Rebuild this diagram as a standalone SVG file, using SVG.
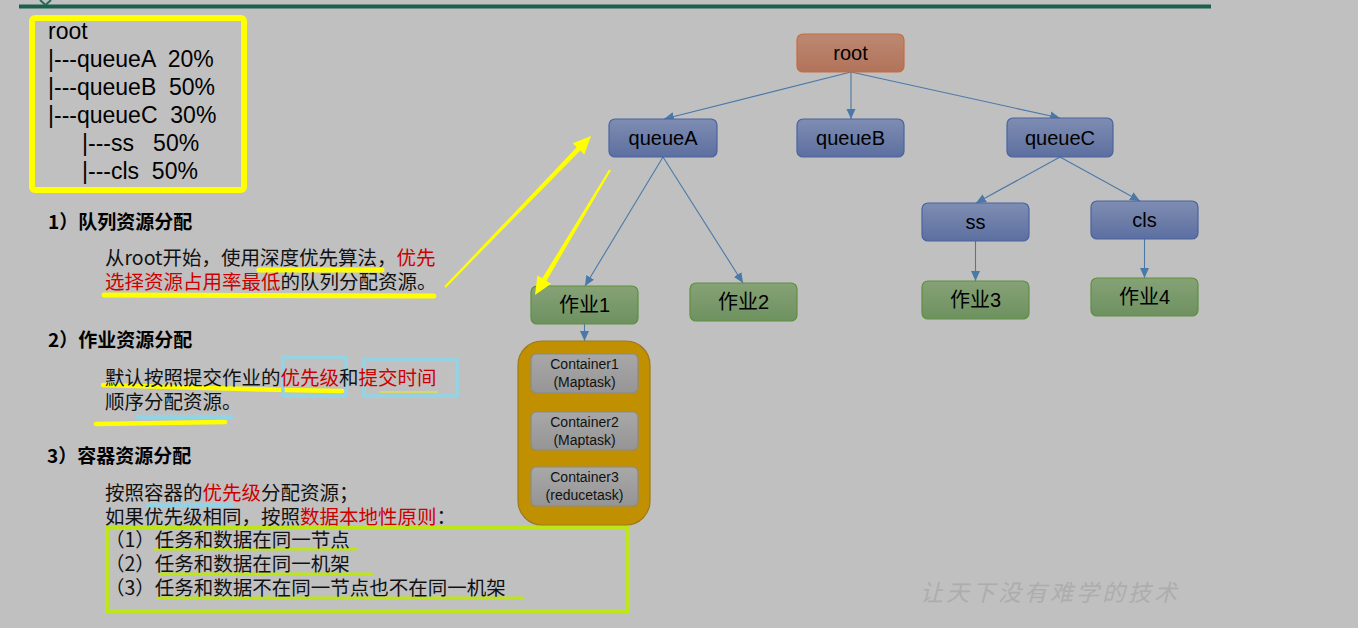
<svg xmlns="http://www.w3.org/2000/svg" width="1358" height="628" viewBox="0 0 1358 628">
<defs>
<style>
.lat{font-family:"Liberation Sans",Arial,sans-serif;}
.cjk{font-family:"Noto Sans CJK SC","Noto Sans",sans-serif;}
.box{font-family:"Liberation Sans",Arial,sans-serif;font-size:23px;fill:#000;}
.h{font-family:"Noto Sans CJK SC",sans-serif;font-size:19px;font-weight:bold;fill:#000;}
.b{font-family:"Noto Sans CJK SC",sans-serif;font-size:19.5px;fill:#111;}
.red{fill:#cc0000;}
.nt{font-family:"Liberation Sans","Noto Sans CJK SC",sans-serif;font-size:20px;fill:#000;text-anchor:middle;}
.ct{font-family:"Liberation Sans",Arial,sans-serif;font-size:14px;fill:#111;text-anchor:middle;}
.blue{fill:url(#gBlue);stroke:#4a63a0;stroke-width:1.2;}
.green{fill:url(#gGreen);stroke:#5f8f3e;stroke-width:1.2;}
.cont{fill:url(#gGray);stroke:#8a8a8a;stroke-width:1.2;}
.conn{stroke:#4a79a8;stroke-width:1.1;fill:none;marker-end:url(#arr);}
.ul{stroke-linecap:round;fill:none;}
</style>
<linearGradient id="gBlue" x1="0" y1="0" x2="0" y2="1"><stop offset="0" stop-color="#7f8db2"/><stop offset="1" stop-color="#5c6fa0"/></linearGradient>
<linearGradient id="gGreen" x1="0" y1="0" x2="0" y2="1"><stop offset="0" stop-color="#86a276"/><stop offset="1" stop-color="#6e9160"/></linearGradient>
<linearGradient id="gRoot" x1="0" y1="0" x2="0" y2="1"><stop offset="0" stop-color="#bc8872"/><stop offset="1" stop-color="#b2735a"/></linearGradient>
<linearGradient id="gGray" x1="0" y1="0" x2="0" y2="1"><stop offset="0" stop-color="#a8a8a8"/><stop offset="1" stop-color="#959595"/></linearGradient>
<marker id="arr" markerUnits="userSpaceOnUse" markerWidth="10" markerHeight="10" refX="10" refY="5" orient="auto"><path d="M0,0.5 L10,5 L0,9.5 z" fill="#4a79a8"/></marker>
</defs>
<rect x="0" y="0" width="1358" height="628" fill="#c0c0c0"/>
<rect x="19" y="4.5" width="1192" height="4" fill="#1d5e4c"/>
<path d="M40,0 L45.5,5 L51,0" fill="none" stroke="#1d6e58" stroke-width="2"/>

<g id="queue-list">
<rect x="32" y="18" width="212" height="172" rx="3" fill="none" stroke="#ffff00" stroke-width="6"/>
<text class="box" x="48" y="39">root</text>
<text class="box" x="48" y="67" xml:space="preserve">|---queueA  20%</text>
<text class="box" x="48" y="95" xml:space="preserve">|---queueB  50%</text>
<text class="box" x="48" y="123" xml:space="preserve">|---queueC  30%</text>
<text class="box" x="82" y="151" xml:space="preserve">|---ss   50%</text>
<text class="box" x="82" y="179" xml:space="preserve">|---cls  50%</text>
</g>

<g id="section1">
<text class="h" x="48" y="229">1）队列资源分配</text>
<path class="ul" d="M259,270 L382,270" stroke="#ffff00" stroke-width="5"/>
<path class="ul" d="M104,295 L434,296" stroke="#ffff00" stroke-width="5"/>
<text class="b" x="105" y="265">从root开始，使用深度优先算法，<tspan class="red">优先</tspan></text>
<text class="b" x="105" y="289"><tspan class="red">选择资源占用率最低</tspan>的队列分配资源。</text>
</g>

<g id="section2">
<text class="h" x="48" y="347">2）作业资源分配</text>
<path class="ul" d="M103,385 Q230,389 342,391" stroke="#ffff00" stroke-width="4.5"/>
<path class="ul" d="M380,392 L437,392" stroke="#d6d86a" stroke-width="2"/>
<path class="ul" d="M138,417 L232,417" stroke="#93d3e6" stroke-width="4.5"/>
<path class="ul" d="M96,424 L225,422" stroke="#ffff00" stroke-width="4.5"/>
<rect x="283" y="357" width="63" height="39" fill="none" stroke="#93d3e6" stroke-width="3.5"/>
<rect x="364" y="360" width="93" height="36" fill="none" stroke="#93d3e6" stroke-width="3.5"/>
<text class="b" x="105" y="385">默认按照提交作业的<tspan class="red">优先级</tspan>和<tspan class="red">提交时间</tspan></text>
<text class="b" x="105" y="409">顺序分配资源。</text>
</g>

<g id="section3">
<text class="h" x="47" y="463">3）容器资源分配</text>
<path class="ul" d="M148,505 L232,505" stroke="#93d3e6" stroke-width="4.5"/>
<rect x="107" y="528" width="521" height="83" fill="none" stroke="#bde61a" stroke-width="4"/>
<path class="ul" d="M155,549 L356,549" stroke="#bde61a" stroke-width="3"/>
<path class="ul" d="M160,574 L372,574" stroke="#bde61a" stroke-width="3"/>
<path class="ul" d="M158,598 L523,598" stroke="#bde61a" stroke-width="3"/>
<text class="b" x="105" y="500">按照容器的<tspan class="red">优先级</tspan>分配资源；</text>
<text class="b" x="105" y="524">如果优先级相同，按照<tspan class="red">数据本地性原则</tspan>：</text>
<text class="b" x="105" y="547">（1）任务和数据在同一节点</text>
<text class="b" x="105" y="571">（2）任务和数据在同一机架</text>
<text class="b" x="105" y="595">（3）任务和数据不在同一节点也不在同一机架</text>
</g>

<g id="connectors">
<line class="conn" x1="851" y1="72" x2="664" y2="119"/>
<line class="conn" x1="851" y1="72" x2="851" y2="119"/>
<line class="conn" x1="851" y1="72" x2="1060" y2="118"/>
<line class="conn" x1="663" y1="157" x2="585" y2="286"/>
<line class="conn" x1="663" y1="157" x2="743" y2="283"/>
<line class="conn" x1="1060" y1="157" x2="976" y2="203"/>
<line class="conn" x1="1060" y1="157" x2="1140" y2="201"/>
<line class="conn" x1="975.5" y1="241" x2="975.5" y2="281"/>
<line class="conn" x1="1144.5" y1="239" x2="1144.5" y2="278"/>
<line class="conn" x1="584.5" y1="324" x2="584.5" y2="341"/>
</g>

<g id="root"><rect x="797" y="34" width="107" height="38" rx="6" fill="url(#gRoot)" stroke="#c86a3e" stroke-width="1.2"/><text class="nt" x="850.5" y="60">root</text></g>
<g id="queueA"><rect class="blue" x="609" y="119" width="108" height="38" rx="6"/><text class="nt" x="663" y="145">queueA</text></g>
<g id="queueB"><rect class="blue" x="797" y="119" width="107" height="38" rx="6"/><text class="nt" x="850.5" y="145">queueB</text></g>
<g id="queueC"><rect class="blue" x="1007" y="118" width="106" height="39" rx="6"/><text class="nt" x="1060" y="145">queueC</text></g>
<g id="ss"><rect class="blue" x="922" y="203" width="107" height="38" rx="6"/><text class="nt" x="975.5" y="229">ss</text></g>
<g id="cls"><rect class="blue" x="1091" y="201" width="107" height="38" rx="6"/><text class="nt" x="1144.5" y="227">cls</text></g>
<g id="job1"><rect class="green" x="531" y="286" width="107" height="38" rx="6"/><text class="nt" x="584.5" y="312">作业1</text></g>
<g id="job2"><rect class="green" x="690" y="283" width="107" height="38" rx="6"/><text class="nt" x="743.5" y="309">作业2</text></g>
<g id="job3"><rect class="green" x="922" y="281" width="107" height="38" rx="6"/><text class="nt" x="975.5" y="307">作业3</text></g>
<g id="job4"><rect class="green" x="1091" y="278" width="107" height="38" rx="6"/><text class="nt" x="1144.5" y="304">作业4</text></g>

<g id="containers">
<rect x="518" y="341" width="132" height="184" rx="24" fill="#c09000" stroke="#9c7a1c" stroke-width="1.2"/>
<g id="container1"><rect class="cont" x="531" y="354" width="107" height="39" rx="5"/><text class="ct" x="584.5" y="369">Container1</text><text class="ct" x="584.5" y="387">(Maptask)</text></g>
<g id="container2"><rect class="cont" x="531" y="412" width="107" height="38" rx="5"/><text class="ct" x="584.5" y="427">Container2</text><text class="ct" x="584.5" y="445">(Maptask)</text></g>
<g id="container3"><rect class="cont" x="531" y="467" width="107" height="39" rx="5"/><text class="ct" x="584.5" y="482">Container3</text><text class="ct" x="584.5" y="500">(reducetask)</text></g>
</g>

<g id="yellow-arrows">
<polygon points="444.3,286.3 576.7,147.2 572.7,143.3 591,136 584.3,154.5 580.3,150.6 445.7,287.7" fill="#ffff00"/>
<polygon points="609.1,169.5 542.2,278.3 537.4,275.5 535,295 551.1,283.7 546.4,280.9 610.9,170.5" fill="#ffff00"/>
</g>

<text x="920" y="601" font-family="Noto Sans CJK SC, sans-serif" font-size="23" fill="#adadad" letter-spacing="3" font-style="italic">让天下没有难学的技术</text>
</svg>
